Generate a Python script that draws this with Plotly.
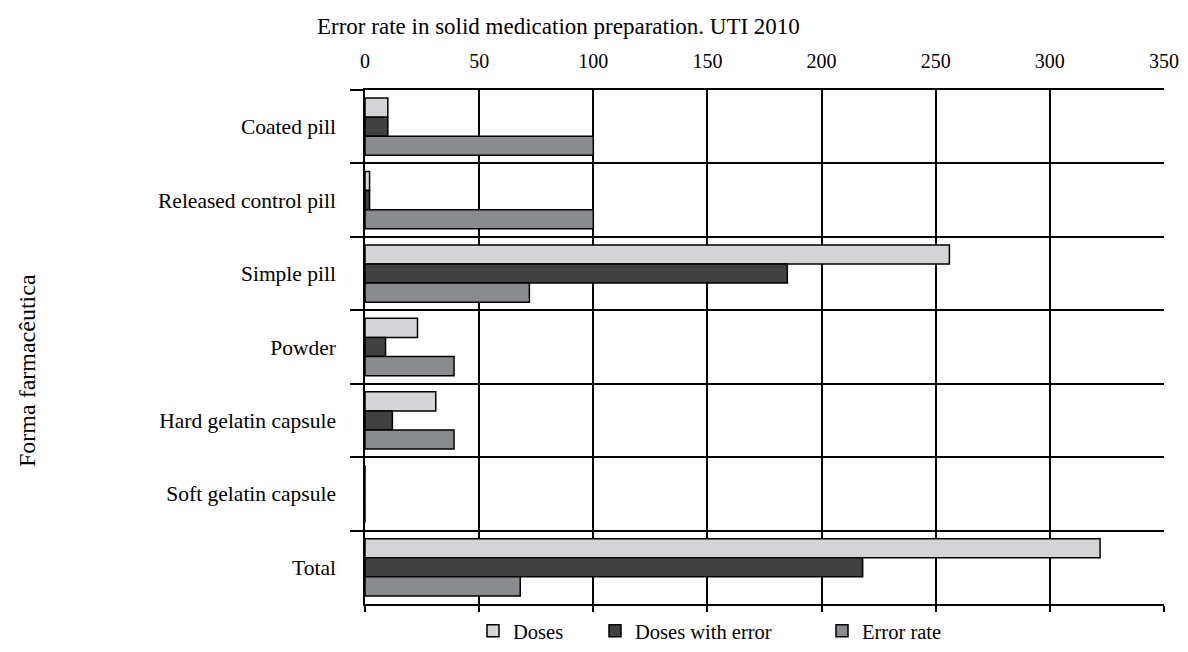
import plotly.graph_objects as go

categories = ["Coated pill", "Released control pill", "Simple pill", "Powder",
              "Hard gelatin capsule", "Soft gelatin capsule", "Total"]
doses = [10, 2, 256, 23, 31, 0, 322]
doses_with_error = [10, 2, 185, 9, 12, 0, 218]
error_rate = [100, 100, 72, 39, 39, 0, 68]
x_ticks = [0, 50, 100, 150, 200, 250, 300, 350]

series = [
    ("Doses", doses, "#d4d4d6", "legend", 513),
    ("Doses with error", doses_with_error, "#414141", "legend2", 635),
    ("Error rate", error_rate, "#8a8b8e", "legend3", 862),
]

FONT = "Liberation Serif"
OFF = 8  # page body margin
W, H = 1188 - 2 * OFF, 652 - 2 * OFF
PL, PR, PT, PB = 365, 1164, 90, 604  # plot area in screen px
L, R, T, B = PL - OFF, W - (PR - OFF), PT - OFF, H - (PB - OFF)
pw = PR - PL
ph = PB - PT

def px_x(px):
    return (px - PL) / pw

def px_y(py):
    return (PB - py) / ph

fig = go.Figure()
for name, vals, color, leg, _ in series:
    fig.add_trace(go.Bar(
        y=categories, x=vals, name=name, orientation="h",
        marker=dict(color=color, line=dict(color="black", width=1.5)),
        legend=leg, hoverinfo="x+y+name",
    ))
# invisible companion so the top axis (labels) is drawn
fig.add_trace(go.Scatter(x=doses, y=categories, xaxis="x2", mode="markers",
                         marker=dict(opacity=0), showlegend=False,
                         hoverinfo="skip"))

legend_common = dict(orientation="h", yanchor="middle", xanchor="left",
                     font=dict(family=FONT, size=20.5, color="black"),
                     bgcolor="rgba(0,0,0,0)", itemclick=False,
                     itemdoubleclick=False)
legends = {}
for _, _, _, leg, text_x in series:
    legends[leg] = dict(x=px_x(text_x - 40), y=px_y(631), **legend_common)

fig.update_layout(
    width=W, height=H,
    margin=dict(l=L, r=R, t=T, b=B, autoexpand=False),
    paper_bgcolor="white", plot_bgcolor="white",
    font=dict(family=FONT, size=20, color="black"),
    showlegend=True,
    barmode="group", bargap=0.22, bargroupgap=0,
    xaxis=dict(range=[0, 350], tickvals=x_ticks, ticks="outside", ticklen=6,
               tickcolor="black", tickwidth=1.5, showticklabels=False,
               showgrid=True, gridcolor="black", gridwidth=1.5,
               showline=True, linecolor="black", linewidth=1.5, zeroline=False),
    xaxis2=dict(overlaying="x", side="top", range=[0, 350], tickvals=x_ticks,
                ticks="", showticklabels=True, ticklabelstandoff=12,
                showgrid=False, showline=True, linecolor="black", linewidth=1.5,
                zeroline=False, tickfont=dict(family=FONT, size=20, color="black")),
    yaxis=dict(type="category", categoryorder="array", categoryarray=categories,
               autorange="reversed", tickson="boundaries", ticks="outside",
               ticklen=13, tickcolor="black", tickwidth=1.5,
               showgrid=True, gridcolor="black", gridwidth=1.5,
               showline=True, linecolor="black", linewidth=1.5,
               ticklabelstandoff=23,
               tickfont=dict(family=FONT, size=21.5, color="black")),
    annotations=[
        dict(text="Error rate in solid medication preparation. UTI 2010",
             xref="paper", yref="paper", x=px_x(558), y=px_y(27),
             xanchor="center", yanchor="middle", showarrow=False,
             font=dict(family=FONT, size=23, color="black")),
        dict(text="Forma farmacêutica", textangle=-90,
             xref="paper", yref="paper", x=px_x(27), y=px_y(371),
             xanchor="center", yanchor="middle", showarrow=False,
             font=dict(family=FONT, size=24, color="black")),
    ],
    **legends,
)

fig.write_html("out.html")
